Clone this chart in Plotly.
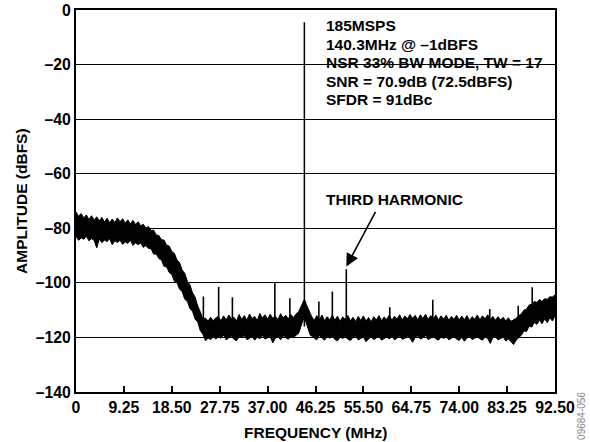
"""
FFT plot: 185MSPS, 140.3MHz input, NSR 33% BW mode
"""

import plotly.graph_objects as go

# noise floor envelope, in segments (MHz, dBFS top, dBFS bottom)
# 0..27 MHz: passband shelf and roll-off
LEFT_F = [0, 0.5, 1, 1.5, 2, 2.5, 3, 3.5, 4, 4.5, 5, 5.5, 6, 6.5, 7, 7.5, 8, 8.5, 9, 9.5,
          10, 10.5, 11, 11.5, 12, 12.5, 13, 13.5, 14, 14.5, 15, 15.5, 16, 16.5, 17, 17.5,
          18, 18.5, 19, 19.5, 20, 20.5, 21, 21.5, 22, 22.5, 23, 23.5, 24, 24.5, 25, 25.5,
          26, 26.5, 27]
LEFT_HI = [-74.0, -75.6, -74.6, -76.2, -75.1, -76.8, -75.4, -77.0, -75.8, -77.3, -76.0,
           -77.7, -76.3, -78.0, -76.6, -77.9, -76.2, -77.6, -76.5, -78.2, -76.9, -78.4,
           -77.1, -78.6, -77.6, -79.1, -78.5, -79.9, -79.4, -80.8, -80.7, -82.5, -82.6,
           -84.2, -84.3, -86.2, -86.5, -88.5, -89.2, -91.6, -92.6, -95.3, -96.5, -99.4,
           -100.7, -103.6, -105.2, -108.5, -110.6, -113.2, -112.9, -114.0, -112.6, -113.9,
           -112.8]
LEFT_LO = [-83.0, -84.4, -83.5, -84.0, -82.9, -84.6, -83.8, -84.4, -87.2, -83.9, -85.3,
           -84.3, -84.9, -83.8, -86.0, -84.6, -85.2, -84.4, -85.9, -85.0, -85.5, -84.4,
           -86.3, -85.3, -86.0, -85.4, -87.0, -86.3, -87.4, -87.5, -89.5, -89.4, -91.1,
           -91.6, -94.0, -94.1, -96.2, -96.9, -99.4, -99.9, -102.3, -103.2, -106.0, -106.8,
           -109.4, -110.4, -113.3, -114.3, -117.5, -118.8, -121.3, -120.2, -120.8, -119.7,
           -120.6]

# 27.5..43 MHz: flat floor
MID1_F = [27.5, 28, 28.5, 29, 29.5, 30, 30.5, 31, 31.5, 32, 32.5, 33, 33.5, 34, 34.5, 35,
          35.5, 36, 36.5, 37, 37.5, 38, 38.5, 39, 39.5, 40, 40.5, 41, 41.5, 42, 42.5, 43]
MID1_HI = [-112.4, -113.9, -112.1, -113.6, -111.8, -113.2, -112.6, -114.0, -111.6, -113.4,
           -112.0, -113.7, -111.4, -113.1, -112.3, -113.8, -111.2, -112.9, -111.7, -113.3,
           -111.5, -113.0, -112.2, -113.5, -111.3, -112.8, -111.9, -113.2, -111.6, -112.7,
           -111.4, -110.6]
MID1_LO = [-119.8, -120.3, -119.1, -120.9, -120.2, -119.4, -120.7, -121.2, -119.6, -120.0,
           -119.3, -120.8, -120.4, -119.5, -121.0, -119.9, -120.5, -119.2, -120.6, -120.1,
           -119.7, -122.0, -120.3, -119.6, -120.9, -119.4, -120.2, -120.7, -119.5, -120.1,
           -119.2, -118.5]

# skirt around the fundamental
SKIRT_F = [43.6, 44.1, 44.6, 45.2]
SKIRT_HI = [-108.0, -106.0, -108.5, -111.5]
SKIRT_LO = [-115.0, -112.5, -115.5, -119.0]

# 45.5..84 MHz: flat floor
MID2_F = [45.5, 46, 46.5, 47, 47.5, 48, 48.5, 49, 49.5, 50, 50.5, 51, 51.5, 52, 52.5, 53,
          53.5, 54, 54.5, 55, 55.5, 56, 56.5, 57, 57.5, 58, 58.5, 59, 59.5, 60, 60.5, 61,
          61.5, 62, 62.5, 63, 63.5, 64, 64.5, 65, 65.5, 66, 66.5, 67, 67.5, 68, 68.5, 69,
          69.5, 70, 70.5, 71, 71.5, 72, 72.5, 73, 73.5, 74, 74.5, 75, 75.5, 76, 76.5, 77,
          77.5, 78, 78.5, 79, 79.5, 80, 80.5, 81, 81.5, 82, 82.5, 83, 83.5, 84]
MID2_HI = [-112.3, -113.8, -112.0, -113.5, -111.8, -113.9, -112.4, -113.6, -111.9, -113.7,
           -112.2, -114.1, -112.5, -113.4, -112.0, -113.9, -112.6, -114.2, -112.3, -113.8,
           -112.1, -114.0, -112.7, -114.3, -112.4, -113.6, -112.0, -113.9, -112.5, -113.4,
           -111.8, -113.7, -112.2, -113.3, -111.7, -113.6, -112.1, -113.2, -111.6, -113.0,
           -111.9, -113.5, -111.7, -113.1, -111.5, -113.4, -112.0, -113.2, -111.8, -113.6,
           -112.1, -113.3, -111.9, -113.7, -112.3, -113.4, -111.9, -113.6, -112.2, -113.5,
           -112.0, -113.8, -112.4, -113.3, -111.8, -113.5, -112.1, -113.2, -111.7, -113.4,
           -112.3, -113.7, -112.4, -113.6, -112.6, -114.0, -112.8, -114.1]
MID2_LO = [-119.6, -120.4, -120.9, -119.3, -120.1, -121.0, -119.7, -120.3, -119.5, -120.8,
           -121.2, -119.9, -120.4, -119.6, -120.7, -121.1, -120.0, -119.5, -120.9, -120.3,
           -119.8, -121.6, -120.5, -119.9, -120.8, -120.2, -119.6, -121.0, -120.4, -119.8,
           -120.6, -119.4, -120.9, -120.1, -119.5, -120.7, -120.3, -119.6, -120.2, -121.8,
           -120.0, -119.4, -120.6, -120.1, -119.3, -120.8, -120.2, -119.7, -120.5, -121.0,
           -119.8, -120.4, -119.6, -120.9, -120.3, -119.7, -120.6, -121.1, -119.9, -121.4,
           -120.2, -119.6, -120.8, -120.3, -119.7, -120.5, -121.0, -119.8, -120.4, -122.2,
           -120.1, -119.7, -120.9, -120.4, -119.9, -121.3, -120.6, -121.5]

# 84.5..92.5 MHz: rise at the band edge
RIGHT_F = [84.5, 85, 85.5, 86, 86.5, 87, 87.5, 88, 88.5, 89, 89.5, 90, 90.5, 91, 91.5, 92,
           92.5]
RIGHT_HI = [-113.6, -113.0, -112.0, -111.4, -110.0, -109.6, -108.1, -107.9, -106.8, -107.2,
            -106.1, -106.8, -105.8, -106.0, -105.1, -105.2, -104.4]
RIGHT_LO = [-122.6, -121.0, -120.0, -119.2, -117.6, -117.8, -115.9, -116.2, -114.5, -115.2,
            -113.6, -115.0, -113.2, -114.6, -112.8, -114.0, -112.0]

# spurs above the floor (MHz, dBFS)
SPUR_F = [24.6, 27.55, 30.2, 38.4, 41.3, 46.9, 49.5, 52.2, 60.6, 68.9, 79.9, 85.4, 88.1]
SPUR_DB = [-105.0, -101.5, -105.3, -100.0, -105.6, -106.8, -103.2, -95.0, -108.9, -106.2,
           -109.6, -108.4, -101.6]
SPUR_BASE = -116.0

# fundamental (aliased 140.3MHz) and third harmonic
FUND_F = 44.1
FUND_DB = -4.5
HARM3_F = 52.2
HARM3_DB = -95.0

X_TICKS = [0, 9.25, 18.5, 27.75, 37.0, 46.25, 55.5, 64.75, 74.0, 83.25, 92.5]
X_LABELS = ['0', '9.25', '18.50', '27.75', '37.00', '46.25', '55.50', '64.75', '74.00',
            '83.25', '92.50']
Y_TICKS = [0, -20, -40, -60, -80, -100, -120, -140]
Y_LABELS = ['0', '–20', '–40', '–60', '–80', '–100', '–120', '–140']

INFO_LINES = ['185MSPS', '140.3MHz @ –1dBFS', 'NSR 33% BW MODE, TW = 17',
              'SNR = 70.9dB (72.5dBFS)', 'SFDR = 91dBc']

FONT = 'Liberation Sans, Arial, Helvetica, sans-serif'
BOLD = dict(family=FONT, size=15.5, color='black', weight='bold')
TICKFONT = dict(family=FONT, size=15.8, color='black', weight='bold')

noise_f = LEFT_F + MID1_F + SKIRT_F + MID2_F + RIGHT_F
noise_hi = LEFT_HI + MID1_HI + SKIRT_HI + MID2_HI + RIGHT_HI
noise_lo = LEFT_LO + MID1_LO + SKIRT_LO + MID2_LO + RIGHT_LO

fig = go.Figure()

# noise band: lower edge then upper edge filled down to it
fig.add_trace(go.Scatter(x=noise_f, y=noise_lo, mode='lines',
                         line=dict(color='black', width=1), hoverinfo='skip'))
fig.add_trace(go.Scatter(x=noise_f, y=noise_hi, mode='lines', fill='tonexty',
                         fillcolor='black', line=dict(color='black', width=1),
                         hoverinfo='skip'))

# spurs as vertical strokes
sx, sy = [], []
for f, db in zip(SPUR_F, SPUR_DB):
    sx += [f, f, None]
    sy += [db, SPUR_BASE, None]
fig.add_trace(go.Scatter(x=sx, y=sy, mode='lines', line=dict(color='black', width=1.6),
                         hoverinfo='skip'))

# fundamental
fig.add_trace(go.Scatter(x=[FUND_F, FUND_F], y=[FUND_DB, SPUR_BASE], mode='lines',
                         line=dict(color='black', width=1.5), hoverinfo='skip'))

# info text block, one annotation per line
info_y = [-5.75, -12.55, -19.35, -26.15, -32.9]
for txt, yy in zip(INFO_LINES, info_y):
    fig.add_annotation(x=47.8, y=yy, xref='x', yref='y', text=txt, showarrow=False,
                       xanchor='left', yanchor='middle', font=BOLD)

# third harmonic label + arrow
fig.add_annotation(x=47.8, y=-69.4, xref='x', yref='y', text='THIRD HARMONIC',
                   showarrow=False, xanchor='left', yanchor='middle', font=BOLD)
fig.add_annotation(x=HARM3_F, y=HARM3_DB + 1, xref='x', yref='y', text='',
                   showarrow=True, ax=30, ay=-56, arrowhead=2, arrowsize=1.6,
                   arrowwidth=1.6, arrowcolor='black')

# axis titles and figure id
fig.add_annotation(x=0.5, y=-0.105, xref='paper', yref='paper', text='FREQUENCY (MHz)',
                   showarrow=False, xanchor='center', yanchor='middle', font=BOLD)
fig.add_annotation(x=-0.115, y=0.5, xref='paper', yref='paper', text='AMPLITUDE (dBFS)',
                   showarrow=False, xanchor='center', yanchor='middle', textangle=-90,
                   font=BOLD)
fig.add_annotation(x=1.054, y=-0.063, xref='paper', yref='paper', text='09684-056',
                   showarrow=False, xanchor='center', yanchor='middle', textangle=-90,
                   font=dict(family=FONT, size=10, color='#888888'))

fig.update_layout(
    width=590,
    height=442,
    margin=dict(l=76, r=35, t=10, b=50),
    paper_bgcolor='white',
    plot_bgcolor='white',
    showlegend=False,
    xaxis=dict(
        range=[0, 92.5],
        tickmode='array',
        tickvals=X_TICKS,
        ticktext=X_LABELS,
        ticks='inside',
        ticklen=6,
        tickwidth=1.5,
        tickcolor='black',
        showgrid=False,
        zeroline=False,
        showline=True,
        mirror=True,
        linewidth=2,
        linecolor='black',
        automargin=False,
        tickfont=TICKFONT,
    ),
    yaxis=dict(
        range=[-140, 0],
        tickmode='array',
        tickvals=Y_TICKS,
        ticktext=Y_LABELS,
        ticks='',
        showgrid=True,
        gridcolor='black',
        gridwidth=1.3,
        zeroline=False,
        showline=True,
        mirror=True,
        linewidth=2,
        linecolor='black',
        automargin=False,
        tickfont=TICKFONT,
    ),
)

# drop the page's default 8px body margin so the figure fills the window
fig.write_html("out.html", config={'displayModeBar': False},
               post_script="document.body.style.margin = '0';")
